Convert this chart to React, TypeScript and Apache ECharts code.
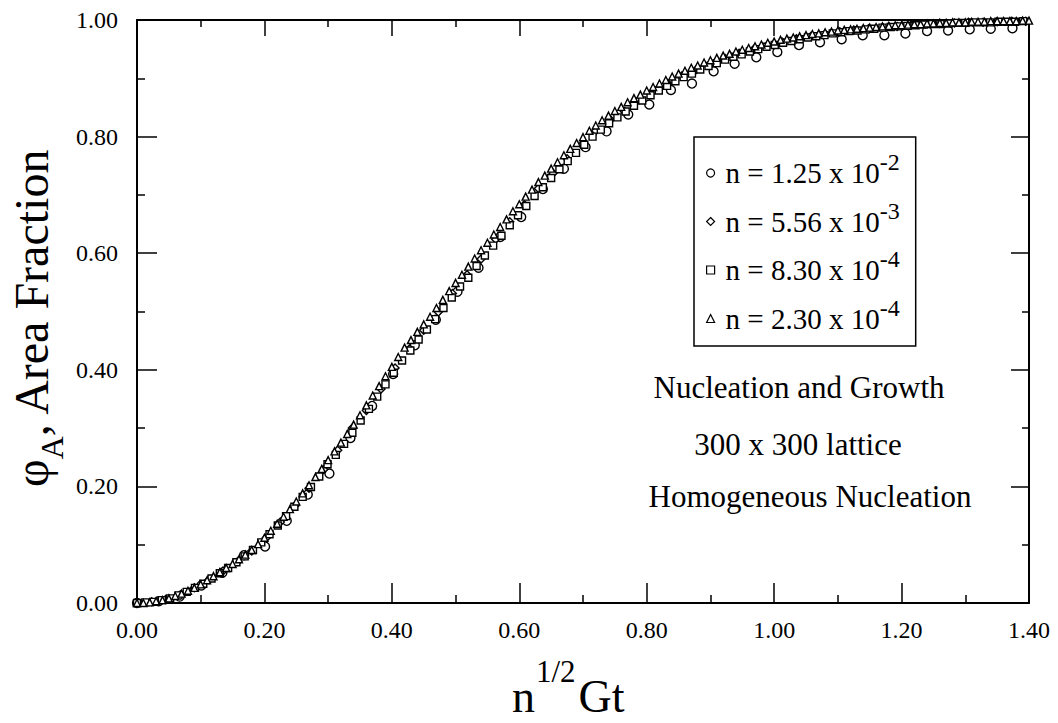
import React, { useEffect, useRef } from 'react';
import * as echarts from 'echarts';

const FONT = 'Liberation Serif';

const SERIES_NAMES = ['n = 1.25 x 10^-2', 'n = 5.56 x 10^-3', 'n = 8.30 x 10^-4', 'n = 2.30 x 10^-4'];
const SERIES_SYMBOLS = ['circle', 'diamond', 'rect', 'triangle'];
const ANNOTATIONS = ['Nucleation and Growth', '300 x 300 lattice', 'Homogeneous Nucleation'];
const X_TITLE = ['n', '1/2', 'Gt'];
const Y_TITLE = ['\u03C6', 'A', ', Area Fraction'];

// n = 1.25e-2 (circles)
const CIRCLES = [
  [0.000, 0.000], [0.034, 0.003], [0.067, 0.011], [0.101, 0.030], [0.134, 0.052], [0.168, 0.082],
  [0.201, 0.097], [0.235, 0.141], [0.268, 0.186], [0.302, 0.222], [0.335, 0.283], [0.369, 0.338],
  [0.402, 0.393], [0.436, 0.442], [0.469, 0.486], [0.503, 0.534], [0.536, 0.575], [0.570, 0.628],
  [0.603, 0.662], [0.637, 0.710], [0.670, 0.745], [0.704, 0.782], [0.737, 0.809], [0.771, 0.838],
  [0.804, 0.855], [0.838, 0.880], [0.871, 0.891], [0.905, 0.912], [0.938, 0.925], [0.972, 0.936],
  [1.005, 0.945], [1.039, 0.957], [1.072, 0.962], [1.106, 0.967], [1.139, 0.974], [1.173, 0.974],
  [1.206, 0.977], [1.240, 0.981], [1.273, 0.982], [1.307, 0.984], [1.340, 0.985], [1.374, 0.986],
];

// n = 5.56e-3 (diamonds)
const DIAMONDS = [
  [0.000, 0.000], [0.023, 0.002], [0.045, 0.006], [0.068, 0.014], [0.090, 0.026], [0.113, 0.040],
  [0.135, 0.055], [0.158, 0.071], [0.180, 0.089], [0.203, 0.112], [0.225, 0.139], [0.248, 0.167],
  [0.270, 0.197], [0.293, 0.229], [0.315, 0.262], [0.338, 0.300], [0.360, 0.330], [0.383, 0.367],
  [0.405, 0.403], [0.428, 0.436], [0.450, 0.468], [0.473, 0.499], [0.495, 0.531], [0.518, 0.563],
  [0.540, 0.590], [0.563, 0.624], [0.585, 0.654], [0.608, 0.683], [0.630, 0.711], [0.653, 0.737],
  [0.675, 0.762], [0.698, 0.786], [0.720, 0.810], [0.743, 0.829], [0.765, 0.843], [0.788, 0.863],
  [0.810, 0.878], [0.833, 0.891], [0.855, 0.904], [0.878, 0.915], [0.900, 0.925], [0.923, 0.934],
  [0.945, 0.943], [0.968, 0.950], [0.990, 0.957], [1.013, 0.962], [1.035, 0.968], [1.058, 0.972],
  [1.080, 0.976], [1.103, 0.980], [1.125, 0.983], [1.148, 0.985], [1.170, 0.987], [1.193, 0.989],
  [1.215, 0.991], [1.238, 0.993], [1.260, 0.994], [1.283, 0.995], [1.305, 0.996], [1.328, 0.996],
  [1.350, 0.997], [1.373, 0.998], [1.395, 0.998],
];

// n = 8.30e-4 (squares)
const SQUARES = [
  [0.000, 0.000], [0.013, 0.001], [0.026, 0.002], [0.039, 0.005], [0.052, 0.008], [0.065, 0.013],
  [0.078, 0.019], [0.091, 0.026], [0.104, 0.033], [0.117, 0.042], [0.130, 0.051], [0.143, 0.060],
  [0.156, 0.070], [0.169, 0.080], [0.182, 0.091], [0.195, 0.104], [0.208, 0.118], [0.221, 0.133],
  [0.234, 0.149], [0.247, 0.165], [0.260, 0.182], [0.273, 0.199], [0.286, 0.217], [0.299, 0.238],
  [0.312, 0.254], [0.325, 0.273], [0.338, 0.292], [0.351, 0.313], [0.364, 0.333], [0.377, 0.354],
  [0.390, 0.375], [0.403, 0.395], [0.416, 0.416], [0.429, 0.433], [0.442, 0.452], [0.455, 0.469],
  [0.468, 0.487], [0.481, 0.506], [0.494, 0.524], [0.507, 0.543], [0.520, 0.558], [0.533, 0.578],
  [0.546, 0.596], [0.559, 0.613], [0.572, 0.630], [0.585, 0.648], [0.598, 0.665], [0.611, 0.681],
  [0.624, 0.698], [0.637, 0.713], [0.650, 0.729], [0.663, 0.744], [0.676, 0.758], [0.689, 0.772],
  [0.702, 0.786], [0.715, 0.800], [0.728, 0.812], [0.741, 0.823], [0.754, 0.833], [0.767, 0.843],
  [0.780, 0.853], [0.793, 0.862], [0.806, 0.871], [0.819, 0.879], [0.832, 0.887], [0.845, 0.895],
  [0.858, 0.902], [0.871, 0.908], [0.884, 0.915], [0.897, 0.921], [0.910, 0.926], [0.923, 0.932],
  [0.936, 0.937], [0.949, 0.941], [0.962, 0.946], [0.975, 0.950], [0.988, 0.954], [1.001, 0.957],
  [1.014, 0.961], [1.027, 0.964], [1.040, 0.967], [1.053, 0.970], [1.066, 0.972], [1.079, 0.974],
  [1.092, 0.977], [1.105, 0.979], [1.118, 0.981], [1.131, 0.982], [1.144, 0.984], [1.157, 0.985],
  [1.170, 0.987], [1.183, 0.988], [1.196, 0.989], [1.209, 0.990], [1.222, 0.991], [1.235, 0.992],
  [1.248, 0.993], [1.261, 0.993], [1.274, 0.994], [1.287, 0.995], [1.300, 0.995], [1.313, 0.996],
  [1.326, 0.996], [1.339, 0.996], [1.352, 0.997], [1.365, 0.997], [1.378, 0.997], [1.391, 0.998],
];

// n = 2.30e-4 (triangles)
const TRIANGLES = [
  [0.00, 0.000], [0.01, 0.000], [0.02, 0.001], [0.03, 0.003], [0.04, 0.005], [0.05, 0.008],
  [0.06, 0.012], [0.07, 0.016], [0.08, 0.021], [0.09, 0.026], [0.10, 0.032], [0.11, 0.039],
  [0.12, 0.046], [0.13, 0.053], [0.14, 0.060], [0.15, 0.067], [0.16, 0.075], [0.17, 0.083],
  [0.18, 0.091], [0.19, 0.101], [0.20, 0.112], [0.21, 0.124], [0.22, 0.136], [0.23, 0.148],
  [0.24, 0.161], [0.25, 0.174], [0.26, 0.188], [0.27, 0.202], [0.28, 0.216], [0.29, 0.230],
  [0.30, 0.245], [0.31, 0.260], [0.32, 0.275], [0.33, 0.290], [0.34, 0.306], [0.35, 0.322],
  [0.36, 0.339], [0.37, 0.356], [0.38, 0.372], [0.39, 0.389], [0.40, 0.405], [0.41, 0.422],
  [0.42, 0.438], [0.43, 0.451], [0.44, 0.465], [0.45, 0.478], [0.46, 0.491], [0.47, 0.506],
  [0.48, 0.520], [0.49, 0.535], [0.50, 0.549], [0.51, 0.563], [0.52, 0.577], [0.53, 0.591],
  [0.54, 0.605], [0.55, 0.618], [0.56, 0.632], [0.57, 0.645], [0.58, 0.658], [0.59, 0.672],
  [0.60, 0.684], [0.61, 0.697], [0.62, 0.709], [0.63, 0.722], [0.64, 0.733], [0.65, 0.745],
  [0.66, 0.756], [0.67, 0.768], [0.68, 0.779], [0.69, 0.789], [0.70, 0.799], [0.71, 0.810],
  [0.72, 0.819], [0.73, 0.828], [0.74, 0.836], [0.75, 0.844], [0.76, 0.851], [0.77, 0.859],
  [0.78, 0.866], [0.79, 0.872], [0.80, 0.879], [0.81, 0.885], [0.82, 0.891], [0.83, 0.897],
  [0.84, 0.903], [0.85, 0.908], [0.86, 0.913], [0.87, 0.918], [0.88, 0.922], [0.89, 0.927],
  [0.90, 0.931], [0.91, 0.935], [0.92, 0.939], [0.93, 0.942], [0.94, 0.946], [0.95, 0.949],
  [0.96, 0.952], [0.97, 0.955], [0.98, 0.958], [0.99, 0.961], [1.00, 0.963], [1.01, 0.966],
  [1.02, 0.968], [1.03, 0.970], [1.04, 0.972], [1.05, 0.974], [1.06, 0.976], [1.07, 0.977],
  [1.08, 0.979], [1.09, 0.980], [1.10, 0.982], [1.11, 0.983], [1.12, 0.984], [1.13, 0.985],
  [1.14, 0.986], [1.15, 0.987], [1.16, 0.988], [1.17, 0.989], [1.18, 0.990], [1.19, 0.991],
  [1.20, 0.991], [1.21, 0.992], [1.22, 0.993], [1.23, 0.993], [1.24, 0.994], [1.25, 0.994],
  [1.26, 0.995], [1.27, 0.995], [1.28, 0.996], [1.29, 0.996], [1.30, 0.996], [1.31, 0.997],
  [1.32, 0.997], [1.33, 0.997], [1.34, 0.998], [1.35, 0.998], [1.36, 0.998], [1.37, 0.998],
  [1.38, 0.998], [1.39, 0.999], [1.40, 0.999],
];

const SERIES_DATA = [CIRCLES, DIAMONDS, SQUARES, TRIANGLES];
const SYMBOL_SIZES = [9, 8, 7, 7];

function textWidth(t: string, size: number): number {
  const ctx = document.createElement('canvas').getContext('2d');
  if (!ctx) return t.length * size * 0.5;
  ctx.font = `${size}px ${FONT}`;
  return ctx.measureText(t).width;
}

function axisCommon(position: string, tickLen: number, minorLen: number, showLabel: boolean, isX: boolean) {
  return {
    type: 'value',
    position,
    min: 0,
    max: isX ? 1.4 : 1.0,
    interval: 0.2,
    axisLine: { show: true, onZero: false, lineStyle: { color: '#000', width: 2 } },
    axisTick: { show: true, inside: true, length: tickLen, lineStyle: { color: '#000', width: 1.5 } },
    minorTick: { show: true, splitNumber: 2, length: minorLen, lineStyle: { color: '#000', width: 1.5 } },
    splitLine: { show: false },
    minorSplitLine: { show: false },
    axisLabel: {
      show: showLabel,
      margin: isX ? 15 : 19,
      color: '#000',
      fontFamily: FONT,
      fontSize: 24,
      formatter: (v: number) => v.toFixed(2),
    },
  };
}

export default function App() {
  const ref = useRef<HTMLDivElement>(null);

  useEffect(() => {
    if (!ref.current) return;
    const chart = echarts.init(ref.current, undefined, { renderer: 'svg' });

    const wN = textWidth(X_TITLE[0], 46);
    const wHalf = textWidth(X_TITLE[1], 31);
    const wPhi = textWidth(Y_TITLE[0], 48);
    const wA = textWidth(Y_TITLE[1], 32);

    const txt = (text: string, x: number, y: number, size: number, align: string) => ({
      type: 'text',
      x,
      y,
      silent: true,
      style: {
        text,
        fill: '#000',
        fontFamily: FONT,
        fontSize: size,
        align,
        verticalAlign: 'middle',
        textAlign: align,
        textVerticalAlign: 'middle',
      },
    });

    const xTitleX = 512;
    const option: any = {
      animation: false,
      backgroundColor: '#fff',
      grid: { left: 137, right: 29, top: 20, bottom: 120, containLabel: false },
      xAxis: [axisCommon('bottom', 20, 8, true, true), axisCommon('top', 16, 7, false, true)],
      yAxis: [axisCommon('left', 20, 8, true, false), axisCommon('right', 18, 7, false, false)],
      legend: {
        show: true,
        orient: 'vertical',
        left: 694,
        top: 137,
        padding: [13, 16, 13, 12],
        itemGap: 11,
        itemWidth: 8,
        itemHeight: 8,
        symbolKeepAspect: true,
        backgroundColor: '#fff',
        borderColor: '#000',
        borderWidth: 1.5,
        borderRadius: 0,
        selectedMode: false,
        data: SERIES_NAMES.map((n, i) => ({ name: n, icon: SERIES_SYMBOLS[i] })),
        itemStyle: { color: '#fff', borderColor: '#000', borderWidth: 1.2 },
        formatter: (name: string) => {
          const parts = name.split('^');
          return `{b|${parts[0]}}{s|${parts[1]}}`;
        },
        textStyle: {
          color: '#000',
          fontFamily: FONT,
          fontSize: 29,
          rich: {
            b: { color: '#000', fontFamily: FONT, fontSize: 29, lineHeight: 46, padding: [0, 0, 0, 6] },
            s: { color: '#000', fontFamily: FONT, fontSize: 24, lineHeight: 20, verticalAlign: 'top' },
          },
        },
      },
      series: SERIES_NAMES.map((name, i) => ({
        type: 'scatter',
        name,
        data: SERIES_DATA[i],
        symbol: SERIES_SYMBOLS[i],
        symbolSize: SYMBOL_SIZES[i],
        xAxisIndex: 0,
        yAxisIndex: 0,
        itemStyle: { color: '#fff', borderColor: '#000', borderWidth: 1.4, opacity: 1 },
        emphasis: { disabled: true },
        z: 2 + i,
      })),
      graphic: [
        txt(ANNOTATIONS[0], 799, 387.5, 31, 'center'),
        txt(ANNOTATIONS[1], 798, 444.5, 31, 'center'),
        txt(ANNOTATIONS[2], 810, 496.5, 31, 'center'),
        txt(X_TITLE[0], xTitleX, 696.5, 46, 'left'),
        txt(X_TITLE[1], xTitleX + wN + 1, 671, 31, 'left'),
        txt(X_TITLE[2], xTitleX + wN + wHalf + 4, 696.5, 46, 'left'),
        {
          type: 'group',
          x: 31,
          y: 487,
          rotation: Math.PI / 2,
          silent: true,
          children: [
            txt(Y_TITLE[0], 0, 0, 48, 'left'),
            txt(Y_TITLE[1], wPhi, 21, 32, 'left'),
            txt(Y_TITLE[2], wPhi + wA, 0, 48, 'left'),
          ],
        },
      ],
    };

    chart.setOption(option);
    return () => chart.dispose();
  }, []);

  return (
    <div
      ref={ref}
      style={{ position: 'absolute', left: 0, top: 0, width: 1058, height: 723, background: '#fff' }}
    />
  );
}
